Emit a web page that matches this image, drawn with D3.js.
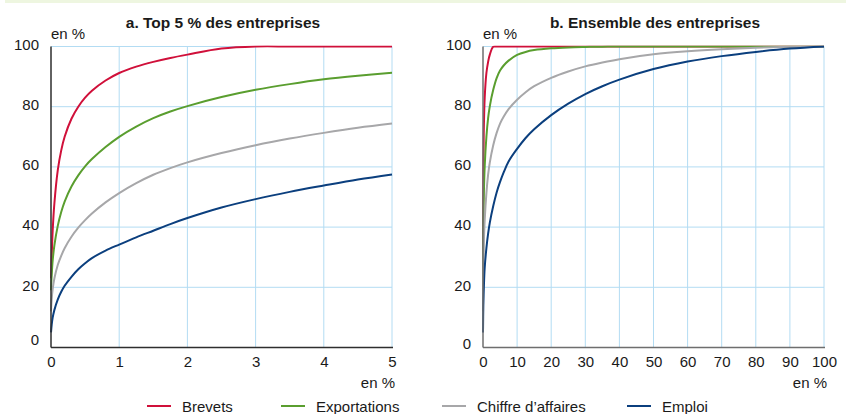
<!DOCTYPE html>
<html lang="fr">
<head>
<meta charset="utf-8">
<script src="https://cdn.jsdelivr.net/npm/d3@7"></script>
<style>
  html, body { margin: 0; padding: 0; background: #ffffff; }
  svg { display: block; }
  text { font-family: "Liberation Sans", Arial, Helvetica, sans-serif; fill: #1a1a1a; }
</style>
</head>
<body>
<svg id="chart" width="851" height="414"></svg>
<script>
// Cumulative share (%) held by the top x % of firms.
// Panel a: top 5 % of firms
const xTop = [0, 0.01, 0.025, 0.05, 0.1, 0.15, 0.2, 0.3, 0.4, 0.5, 0.6, 0.8, 1, 1.25, 1.5, 1.75, 2, 2.5, 3, 3.5, 4, 4.5, 5];
const brevetsTop      = [23, 30, 39, 48, 59, 65.5, 70, 76, 80, 83, 85.3, 88.7, 91.2, 93.3, 94.9, 96.2, 97.3, 99.3, 100, 100, 100, 100, 100];
const exportationsTop = [19, 24, 29, 34, 40.5, 45, 48.5, 53.5, 57.2, 60.2, 62.6, 66.6, 70, 73.4, 76.2, 78.4, 80.2, 83.2, 85.6, 87.5, 89.1, 90.3, 91.3];
const chiffreTop      = [12, 16, 19.5, 23, 27.5, 30.5, 33, 36.8, 39.8, 42.3, 44.5, 48.2, 51.3, 54.6, 57.4, 59.6, 61.5, 64.6, 67.2, 69.4, 71.3, 73, 74.4];
const emploiTop       = [5, 7.5, 10, 12.5, 16, 18.5, 20.5, 23.5, 26, 28, 29.7, 32.2, 34.2, 36.6, 38.8, 41, 43, 46.5, 49.3, 51.7, 53.8, 55.8, 57.5];

// Panel b: all firms
const xAll = [0, 0.1, 0.25, 0.5, 1, 1.5, 2, 3, 4, 5, 6, 7.5, 10, 12.5, 15, 20, 25, 30, 35, 40, 50, 60, 70, 80, 90, 100];
const brevetsAll      = [23, 59, 73, 83, 91.2, 94.9, 97.3, 99.9, 100, 100, 100, 100, 100, 100, 100, 100, 100, 100, 100, 100, 100, 100, 100, 100, 100, 100];
const exportationsAll = [19, 40.5, 51, 60.2, 70, 76.2, 80.2, 85.6, 89.5, 92, 93.6, 95.3, 97.2, 98.2, 98.8, 99.4, 99.7, 99.85, 99.95, 100, 100, 100, 100, 100, 100, 100];
const chiffreAll      = [12, 27.5, 35, 42.3, 51.3, 57.4, 61.5, 67.2, 71.3, 74.4, 76.6, 79.2, 82.3, 84.8, 86.8, 89.6, 91.7, 93.4, 94.7, 95.8, 97.4, 98.4, 99.1, 99.6, 99.9, 100];
const emploiAll       = [5, 14, 20, 26.5, 33, 37.8, 41.5, 47, 51.5, 55, 58, 61.8, 66, 69.6, 72.5, 77.2, 81, 84.2, 86.8, 89, 92.5, 95, 96.8, 98.2, 99.3, 100];

const seriesNames = ["Brevets", "Exportations", "Chiffre d\u2019affaires", "Emploi"];
const seriesColors = ["#d0103a", "#5a9e2f", "#a7a7a9", "#0b3f7e"];

const yTicks = [0, 20, 40, 60, 80, 100];
const xTicksTop = [0, 1, 2, 3, 4, 5];
const xTicksAll = [0, 10, 20, 30, 40, 50, 60, 70, 80, 90, 100];

const panelTitles = ["a. Top 5 % des entreprises", "b. Ensemble des entreprises"];
const unitLabel = "en %";

const svg = d3.select("#chart");

// thin pale-green band along the top edge
svg.append("rect")
  .attr("x", 5).attr("y", 0).attr("width", 841).attr("height", 3)
  .attr("fill", "#eef6e0");

const panels = [
  { title: panelTitles[0], xs: xTop, ys: [brevetsTop, exportationsTop, chiffreTop, emploiTop],
    xDomain: [0, 5], xRange: [51, 392], xTicks: xTicksTop, titleX: 223,
    axisColor: "#2e2e2e", zeroDy: -8 },
  { title: panelTitles[1], xs: xAll, ys: [brevetsAll, exportationsAll, chiffreAll, emploiAll],
    xDomain: [0, 100], xRange: [483, 824], xTicks: xTicksAll, titleX: 655,
    axisColor: "#6e6e6e", zeroDy: -4 }
];

const yRange = [347.5, 46.5];
const fmt = d3.format("~g");

panels.forEach(p => {
  const x = d3.scaleLinear().domain(p.xDomain).range(p.xRange);
  const y = d3.scaleLinear().domain([0, 100]).range(yRange);
  const g = svg.append("g");

  // grid
  const grid = g.append("g").attr("stroke", "#b3dcf3").attr("stroke-width", 1);
  p.xTicks.filter(t => t > 0).forEach(t => {
    grid.append("line").attr("x1", x(t)).attr("x2", x(t)).attr("y1", y(0)).attr("y2", y(100));
  });
  yTicks.filter(t => t > 0).forEach(t => {
    grid.append("line").attr("x1", x(p.xDomain[0])).attr("x2", x(p.xDomain[1])).attr("y1", y(t)).attr("y2", y(t));
  });

  // y labels
  const yAxis = d3.axisLeft(y).tickValues(yTicks).tickFormat(fmt).tickSize(0).tickPadding(12);
  const ya = g.append("g").attr("transform", `translate(${x(0)},0)`).call(yAxis);
  ya.select(".domain").remove();
  ya.selectAll("text")
    .style("font-size", "15px")
    .attr("fill", "#1a1a1a")
    .attr("dy", d => d === 0 ? (0.32 * 15 + p.zeroDy) + "px" : (0.32 * 15 - 2) + "px");

  // x labels
  const xAxis = d3.axisBottom(x).tickValues(p.xTicks).tickFormat(fmt).tickSize(0).tickPadding(9);
  const xa = g.append("g").attr("transform", `translate(0,${y(0)})`).call(xAxis);
  xa.select(".domain").remove();
  xa.selectAll("text").style("font-size", "15px").attr("fill", "#1a1a1a");

  // curves (clipped so the spline never pokes above the 100 line)
  const clipId = "clip-" + p.xDomain[1];
  svg.append("clipPath").attr("id", clipId).append("rect")
    .attr("x", x(0) - 2).attr("y", y(100) - 1).attr("width", x(p.xDomain[1]) - x(0) + 4).attr("height", y(0) - y(100) + 2);
  const line = d3.line().x(d => x(d[0])).y(d => y(d[1])).curve(d3.curveCatmullRom.alpha(0.5));
  p.ys.forEach((vals, i) => {
    g.append("path")
      .datum(p.xs.map((v, k) => [v, vals[k]]))
      .attr("clip-path", `url(#${clipId})`)
      .attr("fill", "none")
      .attr("stroke", seriesColors[i])
      .attr("stroke-width", 2)
      .attr("stroke-linejoin", "round")
      .attr("d", line);
  });

  // axis lines
  g.append("line").attr("x1", x(0)).attr("x2", x(0)).attr("y1", y(0)).attr("y2", y(100))
    .attr("stroke", p.axisColor).attr("stroke-width", 1.5);
  g.append("line").attr("x1", x(0)).attr("x2", x(p.xDomain[1]) + 1).attr("y1", y(0)).attr("y2", y(0))
    .attr("stroke", p.axisColor).attr("stroke-width", 1.5);

  // titles and unit labels
  g.append("text").attr("x", p.titleX).attr("y", 28).attr("text-anchor", "middle")
    .style("font-size", "15.5px").style("font-weight", "bold").text(p.title);
  g.append("text").attr("x", x(0)).attr("y", 39).style("font-size", "15px").text(unitLabel);
  g.append("text").attr("x", x(p.xDomain[1]) + 3).attr("y", 388).attr("text-anchor", "end")
    .style("font-size", "15px").text(unitLabel);
});

// legend
const legendX = [147, 281, 442, 627];
const leg = svg.append("g");
seriesNames.forEach((name, i) => {
  leg.append("line").attr("x1", legendX[i]).attr("x2", legendX[i] + 24)
    .attr("y1", 406).attr("y2", 406)
    .attr("stroke", seriesColors[i]).attr("stroke-width", 2);
  leg.append("text").attr("x", legendX[i] + 35).attr("y", 411.5)
    .style("font-size", "15px").text(name);
});
</script>
</body>
</html>
